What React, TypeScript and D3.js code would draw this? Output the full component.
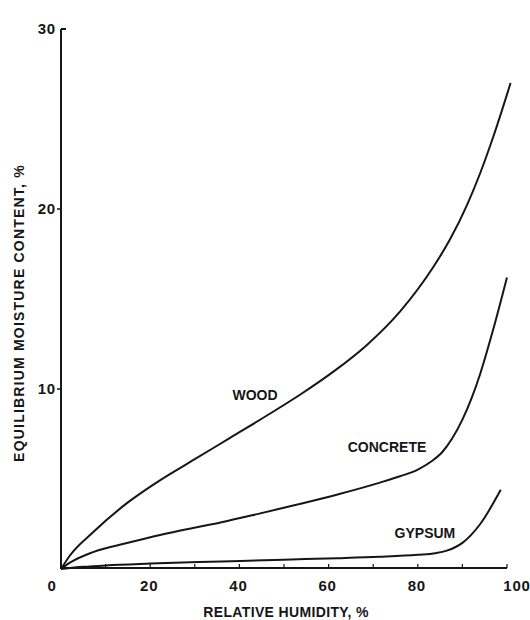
import React from "react";
import * as d3 from "d3";

const rhTicks = [0, 20, 40, 60, 80, 100];
const rhMinorTicks = [10, 20, 30, 40, 50, 60, 70, 80, 90, 100];
const emcTicks = [10, 20, 30];

const woodRH = [0, 2, 7, 15, 22, 30, 38, 46, 54, 61, 68.6, 76, 83.4, 87.2, 91, 94, 96.9, 100.8];
const woodEMC = [0, 0.75, 2.0, 3.7, 4.9, 6.1, 7.3, 8.5, 9.75, 10.95, 12.45, 14.3, 16.75, 18.3, 20.2, 22.0, 24.0, 27];

const concreteRH = [0, 2, 7.2, 14.8, 22.2, 29.6, 36, 44, 53, 62, 71.5, 76, 80, 83, 85.5, 87.7, 90, 92, 94, 96.9, 100];
const concreteEMC = [0, 0.35, 0.94, 1.44, 1.89, 2.28, 2.6, 3.05, 3.58, 4.14, 4.8, 5.15, 5.52, 5.97, 6.5, 7.25, 8.3, 9.45, 10.85, 13.3, 16.2];

const gypsumRH = [0, 5, 10, 20, 36, 50, 62, 71.5, 80, 84, 86.5, 90, 94, 98.6];
const gypsumEMC = [0, 0.12, 0.2, 0.3, 0.42, 0.52, 0.6, 0.68, 0.79, 0.88, 1.02, 1.45, 2.5, 4.4];

const series = [
  { name: "WOOD", rh: woodRH, emc: woodEMC },
  { name: "CONCRETE", rh: concreteRH, emc: concreteEMC },
  { name: "GYPSUM", rh: gypsumRH, emc: gypsumEMC },
];

const labels = [
  { text: "WOOD", rh: 43.5, emc: 9.67 },
  { text: "CONCRETE", rh: 73.1, emc: 6.78 },
  { text: "GYPSUM", rh: 81.6, emc: 2.0 },
];

export default function App() {
  const x = d3.scaleLinear().domain([0, 100]).range([61, 507]);
  const y = d3.scaleLinear().domain([0, 30]).range([569, 29]);
  const line = d3
    .line<[number, number]>()
    .x((d) => x(d[0]))
    .y((d) => y(d[1]))
    .curve(d3.curveMonotoneX);
  const font = "'Liberation Sans', Arial, Helvetica, sans-serif";
  const ink = "#161616";

  return (
    <svg
      width={530}
      height={620}
      style={{ position: "absolute", left: 0, top: 0, background: "#fff" }}
      fontFamily={font}
    >
      {/* y axis */}
      <line x1={x(0)} x2={x(0)} y1={y(0)} y2={y(30)} stroke={ink} strokeWidth={2} />
      {emcTicks.map((t) => (
        <g key={t}>
          {t === 30 ? (
            <line x1={x(0)} x2={x(0) + 5} y1={y(t)} y2={y(t)} stroke={ink} strokeWidth={2} />
          ) : (
            <line x1={x(0) - 4} x2={x(0)} y1={y(t)} y2={y(t)} stroke={ink} strokeWidth={1.5} />
          )}
          <text
            x={x(0) - 5}
            y={y(t)}
            dy="0.36em"
            textAnchor="end"
            fontSize={15}
            fontWeight="bold"
            letterSpacing={0.8}
            fill={ink}
          >
            {t}
          </text>
        </g>
      ))}
      {/* x axis */}
      <line x1={x(0)} x2={x(100)} y1={y(0) - 1} y2={y(0) - 1} stroke={ink} strokeWidth={2} />
      {rhMinorTicks.map((t) => (
        <line key={t} x1={x(t)} x2={x(t)} y1={y(0) - 1} y2={y(0) - 5} stroke={ink} strokeWidth={1.2} />
      ))}
      {rhTicks.map((t) => (
        <text
          key={t}
          x={t === 0 ? x(0) - 9 : t === 100 ? x(t) + 10 : x(t) - 1}
          y={y(0) + 17}
          dy="0.36em"
          textAnchor="middle"
          fontSize={15}
          fontWeight="bold"
          letterSpacing={0.8}
          fill={ink}
        >
          {t}
        </text>
      ))}
      <text
        x={286}
        y={612}
        dy="0.36em"
        textAnchor="middle"
        fontSize={14}
        fontWeight="bold"
        letterSpacing={0.35}
        fill={ink}
      >
        RELATIVE HUMIDITY, %
      </text>
      <text
        transform={`translate(19, 313) rotate(-90)`}
        dy="0.36em"
        textAnchor="middle"
        fontSize={14}
        fontWeight="bold"
        letterSpacing={1.2}
        fill={ink}
      >
        EQUILIBRIUM MOISTURE CONTENT, %
      </text>
      {/* curves */}
      {series.map((s) => (
        <path
          key={s.name}
          d={line(s.rh.map((r, i) => [r, s.emc[i]] as [number, number])) || ""}
          fill="none"
          stroke={ink}
          strokeWidth={2}
        />
      ))}
      {labels.map((l) => (
        <text
          key={l.text}
          x={x(l.rh)}
          y={y(l.emc)}
          dy="0.36em"
          textAnchor="middle"
          fontSize={14}
          fontWeight="bold"
          fill={ink}
        >
          {l.text}
        </text>
      ))}
    </svg>
  );
}
